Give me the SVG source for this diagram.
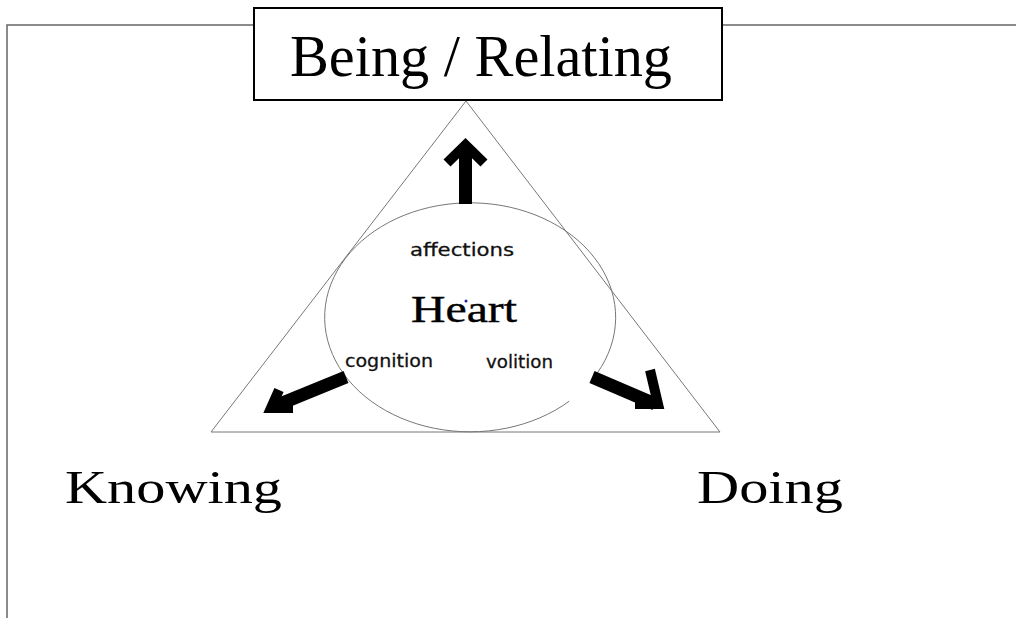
<svg xmlns="http://www.w3.org/2000/svg" width="1016" height="618" viewBox="0 0 1016 618">
<style>
.frame{fill:none;stroke:#666;stroke-width:1.5}
.thin{fill:none;stroke:#777;stroke-width:1}
.serif{font-family:"Liberation Serif","Times New Roman",serif;fill:#000}
.comic{font-family:"Comic Sans MS","DejaVu Sans",sans-serif;fill:#111;font-size:18px;stroke:#111;stroke-width:0.3}
.shaft{fill:none;stroke:#000;stroke-width:13}
.head{fill:none;stroke:#000;stroke-width:10;stroke-linejoin:miter;stroke-miterlimit:10}
</style>
<rect width="1016" height="618" fill="#fff"/>
<g id="frame">
<path class="frame" d="M7 618 V25 H1016"/>
</g>
<g id="triangle">
<path class="thin" d="M466 101 L211 432 L720 432 Z" fill="#fff"/>
</g>
<g id="heart">
<path class="thin" d="M597.3 373 A145.5 114.5 0 1 0 569.2 401.2"/>
<text class="serif" x="411" y="322" font-size="38" stroke="#000" stroke-width="0.4" textLength="106" lengthAdjust="spacingAndGlyphs">Heart</text>
<circle cx="466" cy="301" r="1.5" fill="#2020a0"/>
<text class="comic" x="410" y="256" textLength="104" lengthAdjust="spacingAndGlyphs">affections</text>
<text class="comic" x="345" y="367" textLength="88" lengthAdjust="spacingAndGlyphs">cognition</text>
<text class="comic" x="486" y="368" textLength="67" lengthAdjust="spacingAndGlyphs">volition</text>
</g>
<g id="connectors">
<line class="shaft" x1="465.5" y1="204" x2="465.5" y2="150"/>
<polyline class="head" points="447,163 465.5,145 484,163"/>
<line class="shaft" x1="346" y1="377" x2="275" y2="406"/>
<polyline class="head" points="279,390 271,408 293,408"/>
<line class="shaft" x1="592" y1="377" x2="655" y2="404"/>
<polyline class="head" points="650,370 658,404 635,404"/>
</g>
<g id="being">
<rect x="254" y="8" width="468" height="92" fill="#fff" stroke="#000" stroke-width="2"/>
<text class="serif" x="290" y="76" font-size="60" textLength="382" lengthAdjust="spacingAndGlyphs">Being / Relating</text>
</g>
<g id="knowing">
<text class="serif" x="65" y="503" font-size="46" textLength="217" lengthAdjust="spacingAndGlyphs">Knowing</text>
</g>
<g id="doing">
<text class="serif" x="697" y="503" font-size="46" textLength="146" lengthAdjust="spacingAndGlyphs">Doing</text>
</g>
</svg>
